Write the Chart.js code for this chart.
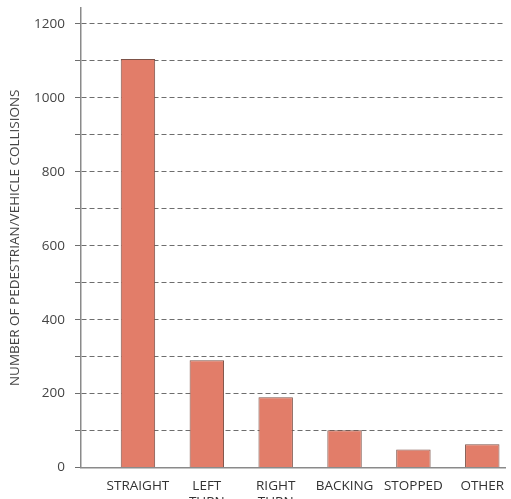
<!DOCTYPE html>
<html>
<head>
<meta charset="utf-8">
<script src="https://cdn.jsdelivr.net/npm/chart.js@4/dist/chart.umd.min.js"></script>
<style>
  html, body { margin: 0; padding: 0; background: #fff; overflow: hidden; }
  #wrap { width: 511px; height: 512px; position: relative; }
</style>
</head>
<body>
<div id="wrap"><canvas id="c"></canvas></div>
<script>
const categories = [["STRAIGHT"], ["LEFT", "TURN"], ["RIGHT", "TURN"], ["BACKING"], ["STOPPED"], ["OTHER"]];
const collisions = [1105, 290, 190, 101, 49, 63];
const yTickLabels = [0, 200, 400, 600, 800, 1000, 1200];

const points = collisions.map((v, i) => ({ x: i, y: v }));

Chart.defaults.font.family = "'Open Sans', 'Noto Sans', sans-serif";
Chart.defaults.color = '#444';

new Chart(document.getElementById('c'), {
  type: 'bar',
  data: {
    datasets: [{
      data: points,
      backgroundColor: '#E27D69',
      borderColor: '#7d5248',
      borderWidth: 1,
      barPercentage: 0.5,
      categoryPercentage: 1.0
    }]
  },
  options: {
    responsive: true,
    maintainAspectRatio: false,
    animation: false,
    layout: { padding: { top: 8, right: 6, left: 0, bottom: 0 } },
    plugins: { legend: { display: false }, tooltip: { enabled: false } },
    scales: {
      x: {
        type: 'linear',
        offset: false,
        min: -0.827,
        max: 5.33,
        afterBuildTicks: (axis) => {
          axis.ticks = categories.map((_, i) => ({ value: i }));
        },
        ticks: {
          includeBounds: false,
          stepSize: 1,
          autoSkip: false,
          maxRotation: 0,
          padding: 2,
          font: { size: 13.5, lineHeight: 1.2 },
          color: '#333',
          callback: (v) => categories[v] || ''
        },
        grid: { display: false, offset: false },
        border: { display: true, color: '#8a8a8a', width: 1.5 }
      },
      y: {
        min: 0,
        max: 1243,
        afterBuildTicks: (axis) => {
          const t = [];
          for (let v = 0; v <= yTickLabels[yTickLabels.length - 1]; v += 100) t.push({ value: v });
          axis.ticks = t;
        },
        afterFit: (scale) => { scale.width = 81; scale.paddingTop = 0; scale.paddingBottom = 0; },
        ticks: {
          padding: 10,
          font: { size: 13.5 },
          color: '#444',
          callback: (v) => yTickLabels.includes(v) ? String(v) : ''
        },
        grid: {
          color: '#6e6e6e',
          lineWidth: 1,
          tickLength: 6,
          drawTicks: true
        },
        border: { display: true, color: '#8a8a8a', width: 1.5, dash: [5, 3] },
        title: {
          display: true,
          text: 'NUMBER OF PEDESTRIAN/VEHICLE COLLISIONS',
          font: { size: 13.5 },
          color: '#444',
          padding: { top: 7, bottom: 12 }
        }
      }
    }
  }
});
</script>
</body>
</html>
